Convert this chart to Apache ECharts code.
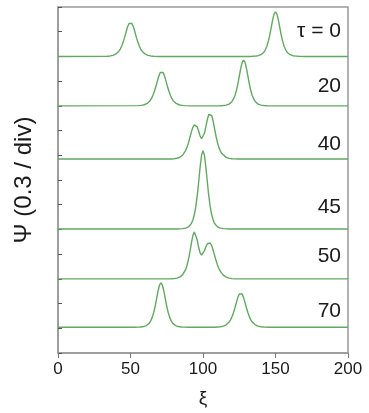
<!DOCTYPE html>
<html>
<head>
<meta charset="utf-8">
<script src="https://cdn.jsdelivr.net/npm/echarts@6/dist/echarts.min.js"></script>
<style>html,body{margin:0;padding:0;background:#fff}#c{width:369px;height:413px}</style>
</head>
<body>
<div id="c"></div>
<script>
// Panel labels (τ values) and baseline offsets (in divisions of 0.3)
var tauLabels = ['τ = 0', '20', '40', '45', '50', '70'];
var baselines = [12, 10, 7.85, 5.02, 3.0, 1.04];
var xTicks = [0, 50, 100, 150, 200];

// Wave profiles Ψ(ξ) in divisions above each baseline
var tau0 = [[0,0],[34,0.01],[36,0.02],[38,0.045],[40,0.10],[42,0.21],[43,0.30],[44,0.43],[45,0.59],[46,0.78],[47,1.0],[48,1.2],[49,1.33],[50,1.38],[51,1.33],[52,1.2],[53,1.0],[54,0.78],[55,0.59],[56,0.43],[57,0.30],[58,0.21],[60,0.10],[62,0.045],[64,0.02],[66,0.01],[70,0],[132,0],[134,0.005],[136,0.012],[138,0.03],[140,0.07],[142,0.17],[143,0.27],[144,0.40],[145,0.60],[146,0.85],[147,1.16],[148,1.47],[149,1.71],[150,1.8],[151,1.71],[152,1.47],[153,1.16],[154,0.85],[155,0.60],[156,0.40],[157,0.27],[158,0.17],[160,0.07],[162,0.03],[164,0.012],[166,0.005],[170,0],[200,0]];
var tau20 = [[0,0],[55.5,0.01],[57.5,0.02],[59.5,0.045],[61.5,0.10],[63.5,0.21],[64.5,0.30],[65.5,0.43],[66.5,0.59],[67.5,0.78],[68.5,1.0],[69.5,1.2],[70.5,1.35],[71.5,1.4],[72.5,1.35],[73.5,1.2],[74.5,1.0],[75.5,0.78],[76.5,0.59],[77.5,0.43],[78.5,0.30],[79.5,0.21],[81.5,0.10],[83.5,0.045],[85.5,0.02],[87.5,0.01],[91,0],[110,0],[112,0.005],[114,0.012],[116,0.03],[118,0.07],[120,0.18],[121,0.28],[122,0.41],[123,0.61],[124,0.87],[125,1.19],[126,1.51],[127,1.76],[128,1.85],[129,1.76],[130,1.51],[131,1.19],[132,0.87],[133,0.61],[134,0.41],[135,0.28],[136,0.18],[138,0.07],[140,0.03],[142,0.012],[144,0.005],[148,0],[200,0]];
var tau40 = [[0,0],[78,0],[80,0.01],[82,0.03],[84,0.07],[86,0.16],[88,0.34],[89,0.48],[90,0.66],[91,0.88],[92,1.1],[93,1.28],[94,1.38],[95,1.39],[96,1.3],[97,1.13],[98,0.93],[99,0.82],[100,0.86],[101,1.04],[102,1.32],[103,1.6],[104,1.8],[105,1.85],[106,1.76],[107,1.53],[108,1.22],[109,0.92],[110,0.66],[111,0.46],[112,0.32],[113,0.22],[114,0.15],[116,0.065],[118,0.027],[120,0.01],[122,0.004],[124,0],[200,0]];
var tau45 = [[0,0],[82,0],[84,0.004],[86,0.011],[88,0.031],[90,0.084],[92,0.22],[93,0.36],[94,0.57],[95,0.89],[96,1.33],[97,1.89],[98,2.49],[99,2.98],[100,3.17],[101,2.98],[102,2.49],[103,1.89],[104,1.33],[105,0.89],[106,0.57],[107,0.36],[108,0.22],[110,0.084],[112,0.031],[114,0.011],[116,0.004],[118,0],[200,0]];
var tau50 = [[0,0],[76,0],[78,0.004],[80,0.01],[82,0.03],[84,0.07],[86,0.17],[87,0.25],[88,0.37],[89,0.55],[90,0.8],[91,1.1],[92,1.45],[93,1.75],[94,1.9],[95,1.82],[96,1.58],[97,1.28],[98,1.05],[99,0.96],[100,1.0],[101,1.14],[102,1.3],[103,1.42],[104,1.46],[105,1.45],[106,1.35],[107,1.16],[108,0.95],[109,0.74],[110,0.56],[111,0.41],[112,0.3],[114,0.15],[116,0.07],[118,0.03],[120,0.01],[122,0],[200,0]];
var tau70 = [[0,0],[53,0],[55,0.005],[57,0.012],[59,0.03],[61,0.07],[63,0.17],[64,0.27],[65,0.40],[66,0.60],[67,0.85],[68,1.16],[69,1.47],[70,1.71],[71,1.8],[72,1.71],[73,1.47],[74,1.16],[75,0.85],[76,0.60],[77,0.40],[78,0.27],[79,0.17],[81,0.07],[83,0.03],[85,0.012],[87,0.005],[90,0],[108,0],[110,0.01],[112,0.02],[114,0.045],[116,0.10],[118,0.21],[119,0.30],[120,0.43],[121,0.59],[122,0.78],[123,1.0],[124,1.2],[125,1.35],[126,1.4],[127,1.35],[128,1.2],[129,1.0],[130,0.78],[131,0.59],[132,0.43],[133,0.30],[134,0.21],[136,0.10],[138,0.045],[140,0.02],[142,0.01],[146,0],[200,0]];

var profiles = [tau0, tau20, tau40, tau45, tau50, tau70];
var labelY = [32, 87, 145, 208, 257, 312];

var chart = echarts.init(document.getElementById('c'), null, {renderer: 'canvas'});
var series = profiles.map(function (p, i) {
  return {
    type: 'line',
    data: p.map(function (d) { return [d[0], d[1] + baselines[i]]; }),
    showSymbol: false,
    symbol: 'none',
    lineStyle: {color: '#62a862', width: 1.4},
    z: 3,
    animation: false
  };
});
var graphics = tauLabels.map(function (t, i) {
  return {
    type: 'text',
    right: 28,
    top: labelY[i] - 11,
    style: {text: t, font: '21px "Liberation Sans", Arial, sans-serif', fill: '#1a1a1a'}
  };
});
chart.setOption({
  animation: false,
  grid: {left: 58, right: 21, top: 7, bottom: 57, show: true, borderColor: '#999', borderWidth: 1.5, backgroundColor: 'transparent'},
  xAxis: {
    type: 'value', min: 0, max: 200, interval: 50,
    axisLine: {lineStyle: {color: '#999', width: 1.5}},
    axisTick: {show: true, inside: false, length: 5, lineStyle: {color: '#777'}},
    axisLabel: {color: '#1a1a1a', fontSize: 17, margin: 8, fontFamily: '"Liberation Sans", Arial, sans-serif',
      formatter: function (v) { return xTicks.indexOf(v) >= 0 ? String(v) : ''; }},
    splitLine: {show: false},
    name: 'ξ', nameLocation: 'middle', nameGap: 36,
    nameTextStyle: {fontSize: 19, color: '#1a1a1a', fontFamily: '"Liberation Sans", Arial, sans-serif'}
  },
  yAxis: {
    type: 'value', min: 0, max: 14, interval: 1,
    axisLine: {show: true, lineStyle: {color: '#999', width: 1.5}},
    axisTick: {show: true, inside: true, length: 4, lineStyle: {color: '#555', width: 1}},
    axisLabel: {show: false},
    splitLine: {show: false},
    name: 'Ψ (0.3 / div)', nameLocation: 'middle', nameGap: 22, nameRotate: 90,
    nameTextStyle: {fontSize: 24, color: '#1a1a1a', fontFamily: '"Liberation Sans", Arial, sans-serif'}
  },
  graphic: graphics,
  series: series
});
</script>
</body>
</html>
